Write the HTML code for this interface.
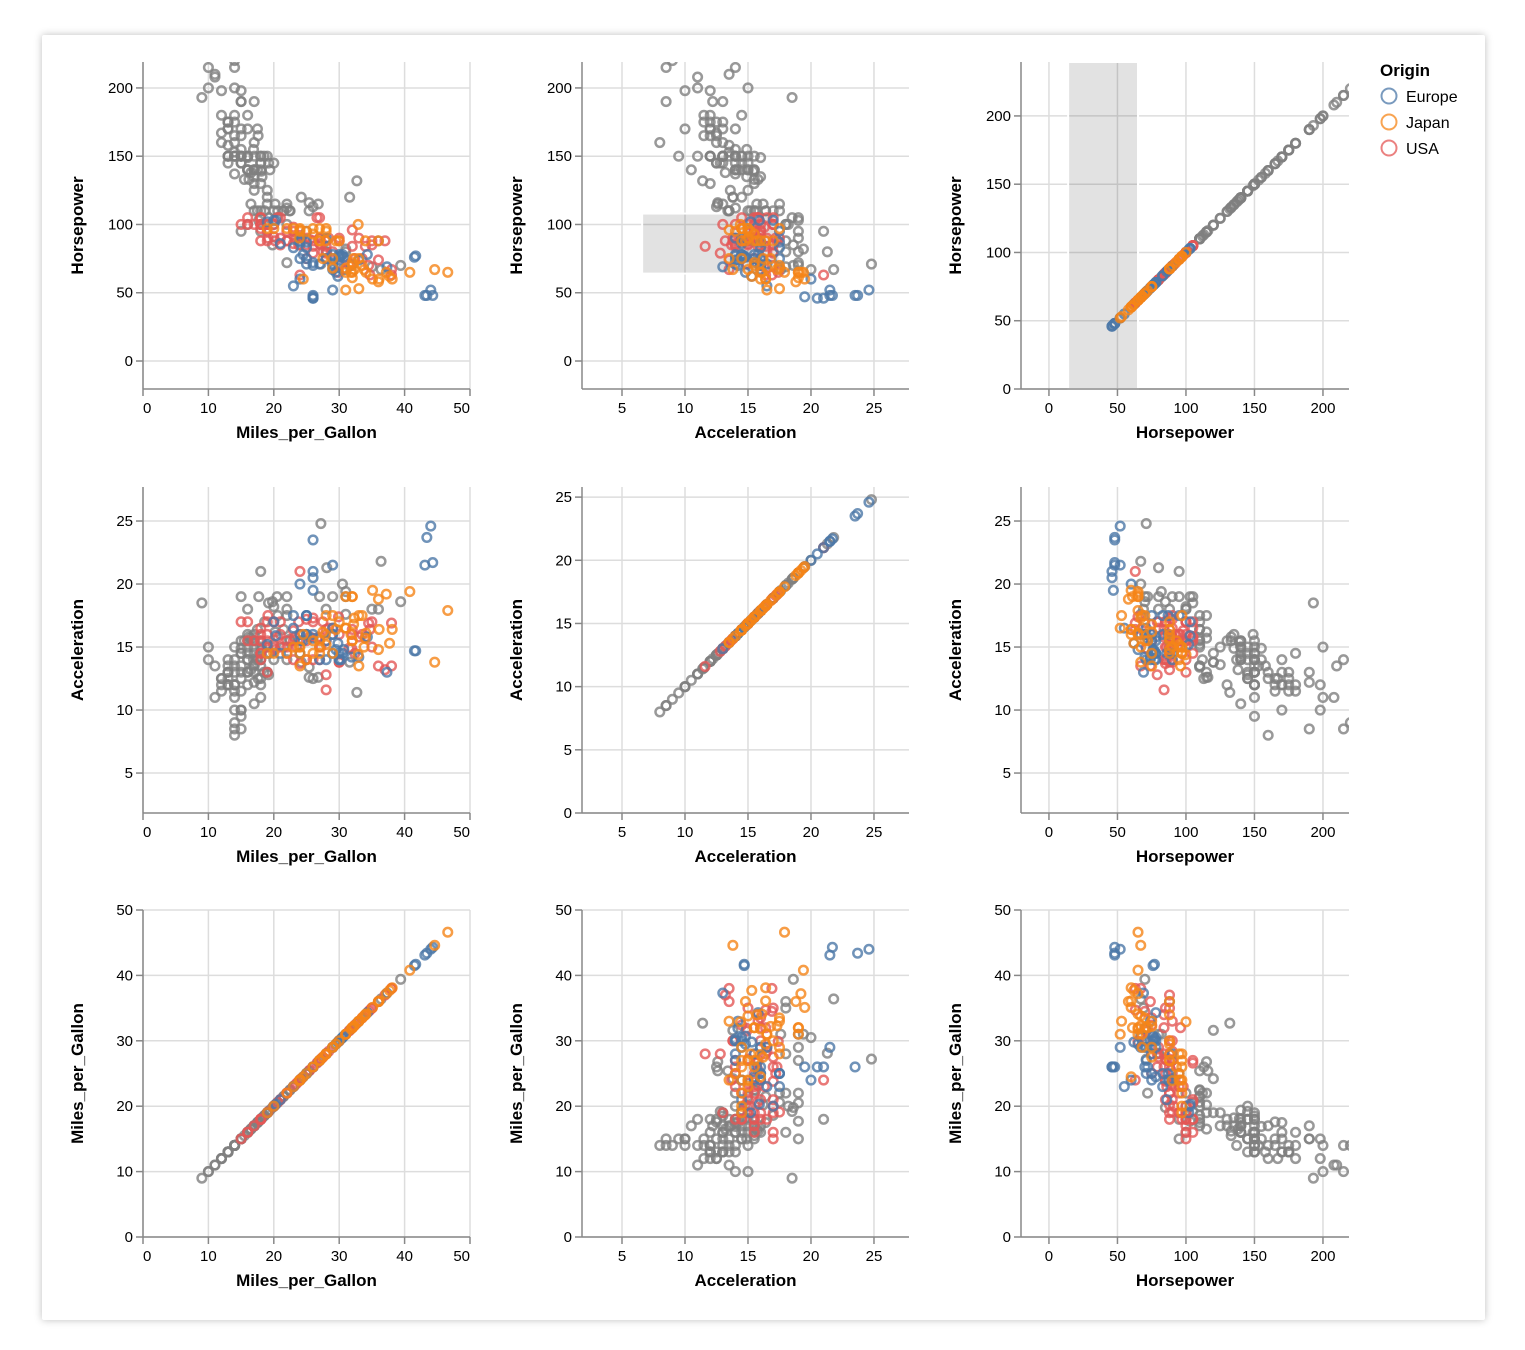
<!DOCTYPE html>
<html><head><meta charset="utf-8">
<style>
html,body{margin:0;padding:0;background:#fff;}
#card{position:absolute;left:42px;top:35px;width:1443px;height:1285px;background:#fff;box-shadow:0 0 8px rgba(0,0,0,0.25);border-radius:2px;}
svg{position:absolute;left:0;top:0;}
text{font-family:"Liberation Sans",Arial,sans-serif;}
</style></head>
<body>
<div id="card"></div>
<svg id="chart" width="1525" height="1350"></svg>
<script>
// origin codes: 0 Europe, 1 Japan, 2 USA
const origins = ["Europe","Japan","USA"];
const originColors = ["#4c78a8","#f58518","#e45756"];
const mpgTicks = [0,10,20,30,40,50];
const accTicks = [5,10,15,20,25];
const accTicksDiag = [0,5,10,15,20,25];
const hpTicks = [0,50,100,150,200];
const brushAcc = [6.6, 17.5];
const brushHp = [64, 108];
const brushHp2 = [14, 65];
const usaMpg = [18,15,18,16,17,15,14,14,14,15,15,14,15,10,10,11,9,14,14,14,14,12,13,13,13,12,13,12,13,11,13,14,15,13,14,16,15,16,13,14,16,14,13,13,14,15,16,15,12,15,16,17,17,18,17,18,16,15,16,17,18,19,18,17,16,15,19,20,19,17,17.5,19.2,18.1,17.6,16.5,18.2,15.5,16.9,19.4,17,18.5,17.5,
22,18,21,21,19,16,17,19,18,18,19,18,23,20,18,18,19,21,15,16,18,18,19,20,20.2,19.2,18.6,20.5,19.8,20.6,23.2,23.8,22.5,21.5,20.6,17.7,18,22,15,17,16,20,19,26.8,25.4,26.6,24,23,28,24.2,22.4,27,23,28.4,25,22,20,17.5,20.2,19.1,
22,24,25,26,28,25,29,27,31,30,27.5,30,32,33,29,28,34.5,27.2,31.9,32.4,34.7,35,37,38,36,29.9,30.5,33.5,26,34,35,27,26,36,24,38,22,31,28,27,32,28,31.5,23.5,25.5,30];
const usaHp = [130,165,150,150,140,198,220,215,225,190,170,160,150,215,200,210,193,165,175,153,150,180,170,175,150,167,175,198,150,208,158,150,150,145,137,150,145,150,150,200,140,180,170,175,150,145,180,190,160,150,140,150,130,140,140,150,170,155,149,190,145,120,145,135,140,150,125,145,150,160,170,145,139,165,138,135,133,155,140,140,150,140,
95,97,85,90,100,105,100,88,100,110,100,88,86,91,105,100,95,105,95,100,95,105,100,100,115,105,110,105,85,105,90,85,110,110,110,103,100,100,100,110,100,110,115,115,110,105,92,95,88,90,110,105,98,90,90,88,100,110,88,90,
72,63,75,79,75,85,70,90,80,88,80,90,84,90,80,80,70,85,71,75,63,88,88,63,88,65,67,75,88,84,85,90,84,74,85,67,88,82,79,86,96,84,71,90,89,70];
const usaAcc = [12,11.5,11,12,10.5,10,9,8.5,10,8.5,10,8,9.5,14,15,13.5,18.5,12,11.5,13.5,13,11.5,12,12,14,12.5,13,12,12,11,13.5,12,13.5,13,14,13,12.5,14,13,11,14,12,12,12.5,15,14.5,14.5,13,12.5,14.5,15.5,14.5,15.5,14,15.5,14,13,14.9,16,12.2,12.5,14.5,15,16,15,15.5,15,14,13,13,14,12.8,15.4,12.5,13.2,14.9,15.5,14,14.5,15,13,14.2,
15.5,15.5,16,15,13,15.5,15.5,15.5,15.5,13.5,15,14.5,14,15,14.5,16,16,17,19,18,21,16.5,17,17,16.2,18.5,17,19,18.6,15.8,15.8,17,15.5,16.4,17.5,19,14,18,17,13.5,17,15.2,13,12.6,13.4,15.7,16,15.5,16.4,15.5,15.6,15.8,16.3,16.5,17.2,14.5,18.2,16.4,14.8,17.5,
19,21,15.5,17,15.5,14,19,14,19,13.8,17,13.8,16.4,15.8,16.5,18,16.9,15,14.9,14.5,16.4,15,13.2,16.9,18,17.4,20,16,17.3,15.8,17,19,14,13.5,13.7,13.5,15,19.4,12.8,15,16,11.6,14.9,15,15.8,16];
const eurMpg = [26,25,24,25,26,28,30,22,21,27,24,28,29,24,26,25,29,23,26,29,24,25,26,29,31,43.1,44.3,43.4,44,41.5,36.4,27.2,30,21.5,20.3,17,16.2,29.8,30.5,31.9,34.3,29,24.5,22,30,20,26,25,33,30.7,29.5,28.1,30.3,37.3,23,41.7,26,19,24,16.5];
const eurHp = [46,87,90,95,113,90,76,112,86,71,87,75,67,75,70,71,75,83,48,78,60,75,46,52,67,48,48,48,52,76,67,71,74,110,103,125,133,62,78,70,78,71,78,115,78,103,72,83,74,76,65,80,77,69,55,77,47,102,88,115];
const eurAcc = [20.5,17.5,14.5,17.5,12.5,14,14.5,14,14.5,14,16,15.5,16,14.5,16,16,16,17.5,23.5,14.5,20,17.5,21,21.5,17.6,21.5,21.7,23.7,24.6,14.7,21.8,24.8,14,15,15.9,13.6,15.8,15.3,14.5,14.2,15.8,16.5,15.5,17.5,14,17,15.7,16,14.2,14.8,14.8,21.3,14,13,16.5,14.7,19.5,15.2,15.5,15.7];
const japMpg = [24,27,25,31,35,27,24,32,28,31,29,32,24,20,26,24.5,33,32,44.6,46.6,38.1,39.4,36.1,37.7,40.8,34.1,35.1,32.3,37.2,32.9,31.6,32.2,33.8,36,30,27.9,23,22,27,19,25.4,24.2,32.7,23.9,29,31,33,34,26,31.8,33.5,27.5,28,29.5,32,36];
const japHp = [95,88,95,65,69,88,97,61,97,52,68,65,96,97,93,60,53,70,67,65,60,70,60,62,65,65,60,67,65,100,120,75,67,88,88,88,97,97,97,97,116,120,132,90,75,68,75,88,97,65,70,75,95,88,72,58];
const japAcc = [15,14.5,14,19,18,15.5,14.5,19,17.5,16.5,17.5,19,13.5,14.5,15.5,16,17.5,15.5,13.8,17.9,16.4,18.6,16.4,15.3,19.4,16.1,19.5,17.3,19.2,14.4,13.8,16.8,15,14.8,17,16,15,14.5,15,14.5,12.6,13.8,11.4,15,14.5,16.5,13.5,15.7,14.5,16,17.5,16.2,15.2,16.4,15.5,18.8];

const svgNS="http://www.w3.org/2000/svg";
const svg=document.getElementById('chart');
function el(tag,attrs,parent){const e=document.createElementNS(svgNS,tag);for(const k in attrs)e.setAttribute(k,attrs[k]);(parent||svg).appendChild(e);return e;}
function lin(d0,d1,r0,r1){return v=>r0+(v-d0)/(d1-d0)*(r1-r0);}

const recs=[];
function addSet(m,h,a,o){for(let i=0;i<m.length;i++)recs.push({mpg:m[i],hp:h[i],acc:a[i],o:o});}
addSet(usaMpg,usaHp,usaAcc,2);addSet(eurMpg,eurHp,eurAcc,0);addSet(japMpg,japHp,japAcc,1);
function selected(r){return (r.hp>=brushHp2[0]&&r.hp<=brushHp2[1])||(r.acc>=brushAcc[0]&&r.acc<=brushAcc[1]&&r.hp>=brushHp[0]&&r.hp<=brushHp[1]);}

const cols=[{f:'mpg',title:'Miles_per_Gallon',x0:143,x1:470,d:[0,50],ticks:mpgTicks},
            {f:'acc',title:'Acceleration',x0:582,x1:909,d:[1.825,27.78],ticks:accTicks},
            {f:'hp',title:'Horsepower',x0:1021,x1:1349,d:[-20.4,219],ticks:hpTicks}];
const rows=[{f:'hp',title:'Horsepower',y0:389,y1:62},
            {f:'acc',title:'Acceleration',y0:813,y1:487},
            {f:'mpg',title:'Miles_per_Gallon',y0:1237,y1:910}];
function yDom(ri,ci){
  if(ri===0) return ci===2?[[0,239.5],hpTicks]:[[-20.5,219],hpTicks];
  if(ri===1) return ci===1?[[0,25.8],accTicksDiag]:[[1.83,27.7],accTicks];
  return [[0,50],mpgTicks];
}
const defs=el('defs',{});
for(let ri=0;ri<3;ri++)for(let ci=0;ci<3;ci++){
  const C=cols[ci],R=rows[ri];
  const cp=el('clipPath',{id:'cp'+ri+ci},defs);
  el('rect',{x:C.x0,y:R.y1,width:C.x1-C.x0,height:R.y0-R.y1},cp);
  const g=el('g',{});
  
  
  const xs=lin(C.d[0],C.d[1],C.x0,C.x1);
  const [yd,yt]=yDom(ri,ci);
  const ys=lin(yd[0],yd[1],R.y0,R.y1);
  C.ticks.forEach(t=>{const x=xs(t);el('line',{x1:x,x2:x,y1:R.y1,y2:R.y0,stroke:'#ddd','stroke-width':1.5},g);});
  yt.forEach(t=>{const y=ys(t);el('line',{x1:C.x0,x2:C.x1,y1:y,y2:y,stroke:'#ddd','stroke-width':1.5},g);});
  if(ri===0&&ci===1){const b=el('rect',{x:xs(brushAcc[0]),y:ys(brushHp[1]),width:xs(brushAcc[1])-xs(brushAcc[0]),height:ys(brushHp[0])-ys(brushHp[1]),fill:'#333','fill-opacity':0.14,stroke:'#fff','stroke-width':2},g);
    }
  if(ri===0&&ci===2){const b=el('rect',{x:xs(brushHp2[0]),y:R.y1,width:xs(brushHp2[1])-xs(brushHp2[0]),height:R.y0-R.y1,fill:'#333','fill-opacity':0.14,stroke:'#fff','stroke-width':2},g);
    }
  el('line',{x1:C.x0,x2:C.x1,y1:R.y0,y2:R.y0,stroke:'#888','stroke-width':1.5},g);
  el('line',{x1:C.x0,x2:C.x0,y1:R.y0,y2:R.y1,stroke:'#888','stroke-width':1.5},g);
  C.ticks.forEach(t=>{const x=xs(t);el('line',{x1:x,x2:x,y1:R.y0,y2:R.y0+7,stroke:'#888','stroke-width':1.5},g);
    let anchor='middle';if(Math.abs(x-C.x0)<1)anchor='start';else if(Math.abs(x-C.x1)<1)anchor='end';
    const tx=el('text',{x:x,y:R.y0+24,'text-anchor':anchor,'font-size':15,fill:'#000'},g);tx.textContent=t;
    });
  yt.forEach(t=>{const y=ys(t);el('line',{x1:C.x0-7,x2:C.x0,y1:y,y2:y,stroke:'#888','stroke-width':1.5},g);
    const tx=el('text',{x:C.x0-10,y:y+5,'text-anchor':'end','font-size':15,fill:'#000'},g);tx.textContent=t;
    });
  const xt=el('text',{x:(C.x0+C.x1)/2,y:R.y0+49,'text-anchor':'middle','font-size':17,'font-weight':'bold',fill:'#000'},g);xt.textContent=C.title;
  
  const cy=(R.y0+R.y1)/2, cx=C.x0-60;
  const yT=el('text',{x:cx,y:cy,'text-anchor':'middle','font-size':17,'font-weight':'bold',fill:'#000',transform:`rotate(-90 ${cx} ${cy})`},g);yT.textContent=R.title;
  
  const pg=el('g',{'clip-path':`url(#cp${ri}${ci})`},g);
  
  
  const order=recs.slice().sort((a,b)=>selected(a)-selected(b));
  order.forEach(r=>{const x=xs(r[C.f]),y=ys(r[R.f]);
    const s=selected(r);
    const c=el('circle',{cx:x,cy:y,r:4.3,fill:'none',stroke:s?originColors[r.o]:'#808080','stroke-width':2.5,'stroke-opacity':0.8},pg);
    
    });
}
const lg=el('g',{});


const lt=el('text',{x:1380,y:76,'font-size':17,'font-weight':'bold',fill:'#000'},lg);lt.textContent='Origin';
origins.forEach((o,i)=>{const y=96+i*26;
  const e=el('g',{},lg);
  
  
  el('circle',{cx:1389,cy:y,r:7.5,fill:'none',stroke:originColors[i],'stroke-width':2,'stroke-opacity':0.75},e);
  const t=el('text',{x:1406,y:y+6,'font-size':16,fill:'#000'},e);t.textContent=o;});
</script>
</body></html>
